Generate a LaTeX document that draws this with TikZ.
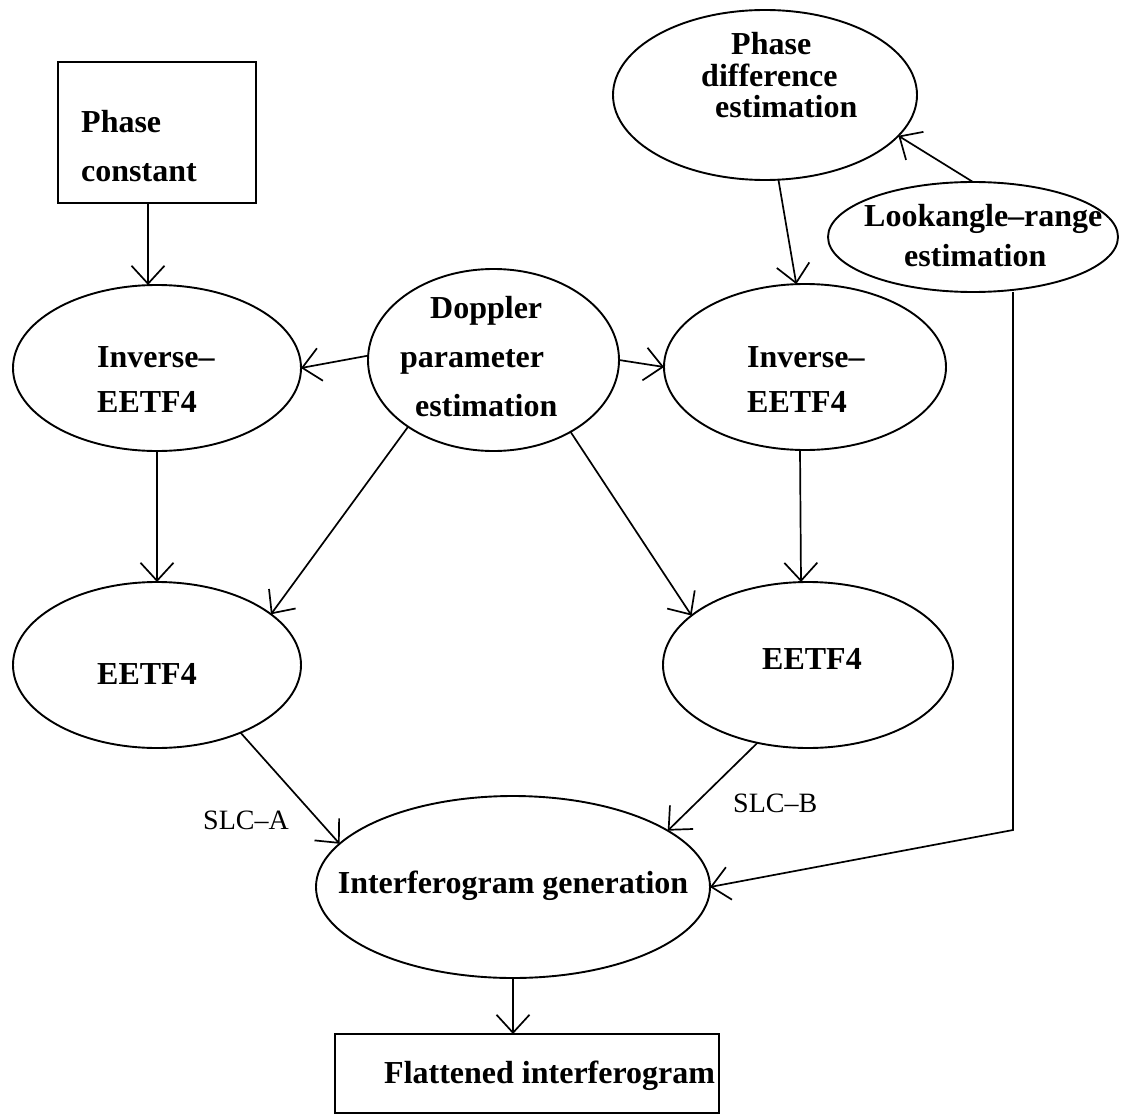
\documentclass[tikz,border=0pt]{standalone}
\usepackage{fontspec}
\setmainfont{Liberation Serif}
\usetikzlibrary{shapes.geometric,arrows.meta}
\begin{document}
\begin{tikzpicture}[x=1pt,y=-1pt,
 shp/.style={draw, line width=1.9pt, inner sep=0pt, outer sep=0pt},
 ell/.style={shp, ellipse},
 box/.style={shp, rectangle},
 lbl/.style={inner sep=0pt, anchor=base west, font=\fontsize{32}{38}\selectfont\bfseries},
 slc/.style={inner sep=0pt, anchor=base west, font=\fontsize{28}{32}\selectfont},
 arr/.style={line width=1.7pt, -{Straight Barb[length=18pt,width=33pt]}}
]
\path[use as bounding box, fill=white] (0,0) rectangle (1142,1115);

% shapes
\node[box, minimum width=198pt, minimum height=141pt] (pc) at (157,132.5) {};
\node[ell, minimum width=288pt, minimum height=166pt] (inv1) at (157,368) {};
\node[ell, minimum width=251pt, minimum height=182pt] (dop) at (493.5,360) {};
\node[ell, minimum width=282pt, minimum height=166pt] (inv2) at (805,367) {};
\node[ell, minimum width=288pt, minimum height=166pt] (eetf1) at (157,665) {};
\node[ell, minimum width=290pt, minimum height=166pt] (eetf2) at (808,665) {};
\node[ell, minimum width=304pt, minimum height=170pt] (pd) at (765,95) {};
\node[ell, minimum width=290pt, minimum height=110pt] (la) at (973,237) {};
\node[ell, minimum width=394pt, minimum height=182pt] (ig) at (513,887) {};
\node[box, minimum width=384pt, minimum height=79pt] (fi) at (527,1073.5) {};

% texts
\node[lbl] (pcA) at (81,133) {Phase};
\node[lbl] (pcB) at (81,182) {constant};
\node[lbl] (inv1A) at (97,367) {Inverse–};
\node[lbl] (inv1B) at (97,412) {EETF4};
\node[lbl] (dopA) at (430,318) {Doppler};
\node[lbl] (dopB) at (400,367) {parameter};
\node[lbl] (dopC) at (415,416) {estimation};
\node[lbl] (inv2A) at (747,367) {Inverse–};
\node[lbl] (inv2B) at (747,412) {EETF4};
\node[lbl] (eetf1A) at (97,684) {EETF4};
\node[lbl] (eetf2A) at (762,669) {EETF4};
\node[lbl] (pdA) at (731,55) {Phase};
\node[lbl] (pdB) at (701,87) {difference};
\node[lbl] (pdC) at (715,118) {estimation};
\node[lbl] (laA) at (864,227) {Lookangle–range};
\node[lbl] (laB) at (904,266) {estimation};
\node[lbl, anchor=base] (igA) at (513,893) {Interferogram generation};
\node[lbl] (fiA) at (384,1083) {Flattened interferogram};
\node[slc] (slcA) at (203,829) {SLC–A};
\node[slc] (slcB) at (733,812) {SLC–B};

% connectors
\draw[arr] ([xshift=-9pt]pc.south) -- ([xshift=-9pt]inv1.north);
\draw[arr] (dop.178) -- (inv1.east);
\draw[arr] (dop.east) -- (inv2.west);
\draw[arr] (dop.218) -- (eetf1.24);
\draw[arr] (dop.-43) -- (eetf2.157);
\draw[arr] (inv1.south) -- (eetf1.north);
\draw[arr] ([xshift=-5pt]inv2.south) -- ([xshift=-7pt]eetf2.north);
\draw[arr] (pd.-81) -- (inv2.96);
\draw[arr] (la.north) -- (pd.-17);
\coordinate (bend) at (1013,830);
\draw[arr] ([xshift=40pt]la.south) -- (bend) -- (ig.east);
\draw[arr] (eetf1.-39) -- (ig.166);
\draw[arr] (eetf2.237) -- (ig.20);
\draw[arr] (ig.south) -- (ig.south |- fi.north);
\end{tikzpicture}
\end{document}
